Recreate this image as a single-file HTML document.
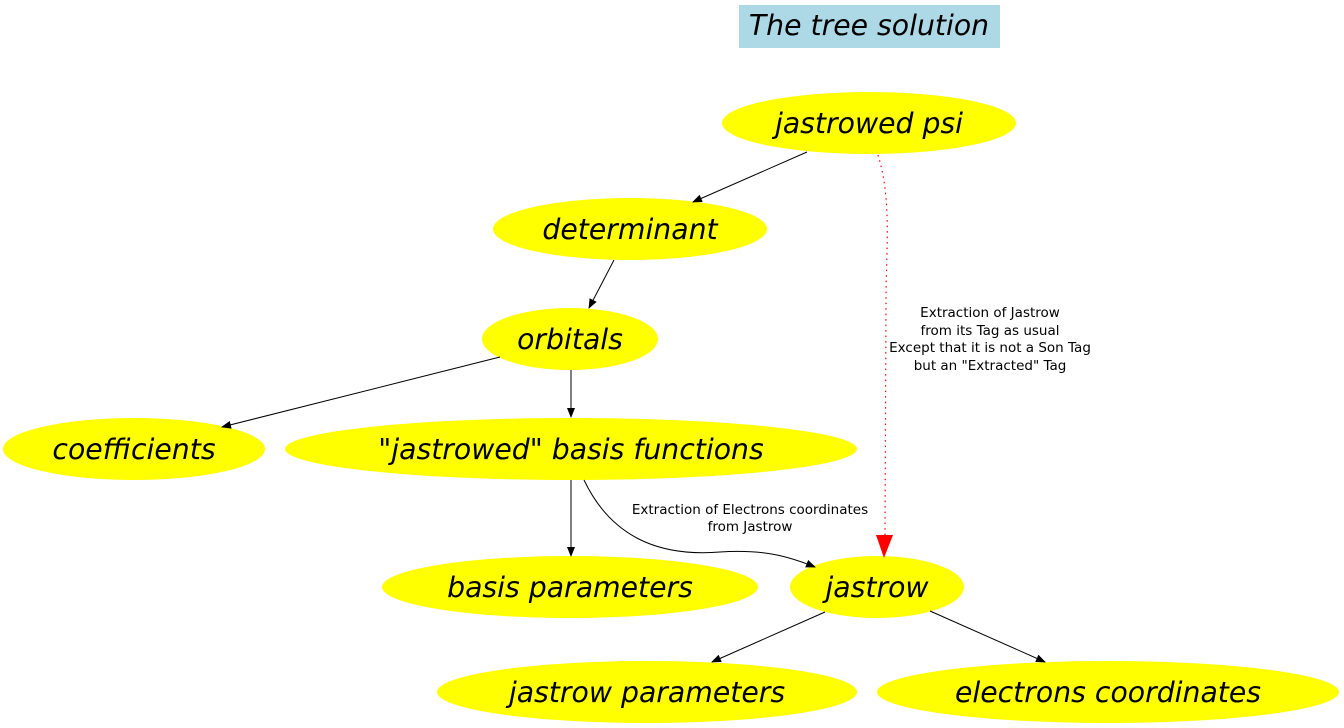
<!DOCTYPE html>
<html><head><meta charset="utf-8"><style>
html,body{margin:0;padding:0;background:#fff;}
svg{display:block;}
.n{font-family:"DejaVu Sans","Liberation Sans",sans-serif;font-style:italic;font-size:28.3px;fill:#000;}
.l{font-family:"DejaVu Sans","Liberation Sans",sans-serif;font-size:13.5px;fill:#000;}
</style></head><body>
<svg width="1344" height="728" viewBox="0 0 1344 728" xmlns="http://www.w3.org/2000/svg">
<defs>
<marker id="a" markerWidth="10" markerHeight="8" refX="9" refY="4" orient="auto" markerUnits="userSpaceOnUse"><path d="M0,0 L10,4 L0,8z" fill="#000"/></marker>
</defs>
<rect x="739" y="5" width="261" height="43" fill="#add8e6"/>
<text class="n" x="869" y="35" text-anchor="middle">The tree solution</text>
<g fill="#ff0">
<ellipse cx="869" cy="123" rx="147" ry="31"/>
<ellipse cx="630" cy="229" rx="137" ry="31"/>
<ellipse cx="570" cy="339" rx="88" ry="31"/>
<ellipse cx="134" cy="449" rx="131" ry="31"/>
<ellipse cx="571" cy="449" rx="286" ry="31"/>
<ellipse cx="570" cy="587" rx="188" ry="31"/>
<ellipse cx="877" cy="587" rx="87" ry="31"/>
<ellipse cx="647" cy="692" rx="210" ry="31"/>
<ellipse cx="1108" cy="692" rx="231" ry="31"/>
</g>
<g stroke="#000" stroke-width="1" fill="none">
<line x1="807" y1="152" x2="693" y2="202" marker-end="url(#a)"/>
<line x1="614" y1="260" x2="589" y2="308" marker-end="url(#a)"/>
<line x1="500" y1="357" x2="222" y2="427" marker-end="url(#a)"/>
<line x1="571" y1="370" x2="571" y2="417" marker-end="url(#a)"/>
<line x1="571" y1="480" x2="571" y2="556" marker-end="url(#a)"/>
<path d="M584,480 C615,545 670,556 720,552 C765,549 790,557 815,567" marker-end="url(#a)"/>
<line x1="825" y1="612" x2="712" y2="662" marker-end="url(#a)"/>
<line x1="930" y1="611" x2="1045" y2="662" marker-end="url(#a)"/>
</g>
<path d="M878,155 C892,200 886,250 886,300 L885,535" stroke="#f00" stroke-width="1.2" stroke-dasharray="1.5,4" fill="none"/>
<path d="M876,535 L893,535 L884,558z" fill="#f00"/>
<text class="n" x="869" y="133" text-anchor="middle">jastrowed psi</text>
<text class="n" x="630" y="239" text-anchor="middle">determinant</text>
<text class="n" x="570" y="349" text-anchor="middle">orbitals</text>
<text class="n" x="134" y="459" text-anchor="middle">coefficients</text>
<text class="n" x="571" y="459" text-anchor="middle">"jastrowed" basis functions</text>
<text class="n" x="570" y="597" text-anchor="middle">basis parameters</text>
<text class="n" x="877" y="597" text-anchor="middle">jastrow</text>
<text class="n" x="647" y="702" text-anchor="middle">jastrow parameters</text>
<text class="n" x="1108" y="702" text-anchor="middle">electrons coordinates</text>
<g class="l" text-anchor="middle">
<text x="990" y="317">Extraction of Jastrow</text>
<text x="990" y="335">from its Tag as usual</text>
<text x="990" y="352">Except that it is not a Son Tag</text>
<text x="990" y="370">but an "Extracted" Tag</text>
<text x="750" y="514">Extraction of Electrons coordinates</text>
<text x="750" y="531">from Jastrow</text>
</g>
</svg>
</body></html>
